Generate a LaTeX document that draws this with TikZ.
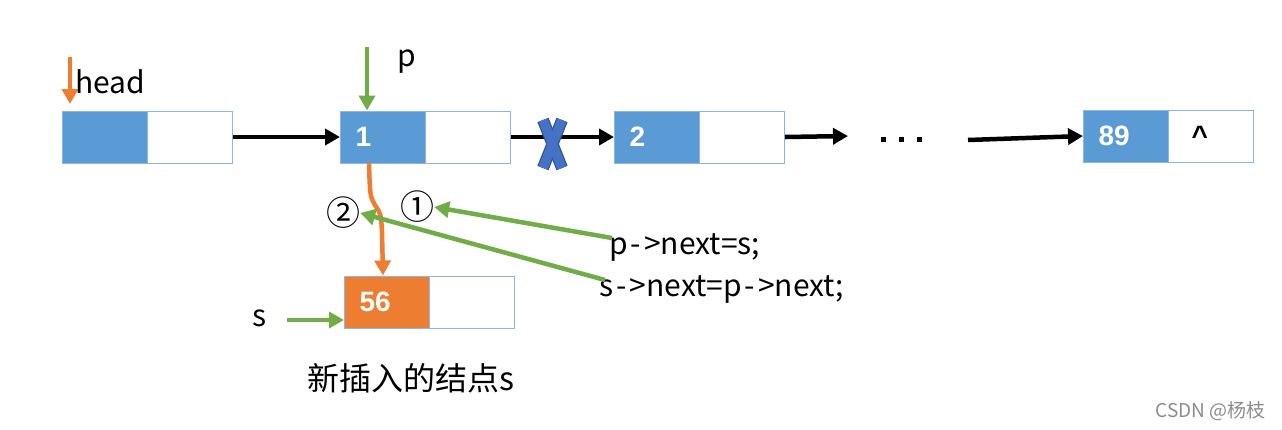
\documentclass[tikz,border=0pt]{standalone}
\usepackage{fontspec}
\setmainfont{Noto Sans CJK SC}
\newfontfamily\numfont{Liberation Sans}
\usetikzlibrary{arrows.meta}
\definecolor{cblue}{HTML}{5B9BD5}
\definecolor{cborder}{HTML}{8EB4E3}
\definecolor{corange}{HTML}{ED7D31}
\definecolor{cgreen}{HTML}{70AD47}
\definecolor{cx}{HTML}{4472C4}
\tikzset{
  datacell/.style={rectangle, fill=cblue, draw=cborder, line width=1pt, minimum width=85pt, minimum height=52pt, inner sep=0pt, anchor=west, text=white, font=\numfont\bfseries\fontsize{28}{30}\selectfont, text width=55pt, align=left},
  ptrcell/.style={rectangle, fill=white, draw=cborder, line width=1pt, minimum width=85pt, minimum height=52pt, inner sep=0pt, anchor=west, font=\numfont\bfseries\fontsize{28}{30}\selectfont, text width=55pt, align=left},
  link/.style={black, line width=4.5pt, -{Triangle[length=15pt,width=16pt]}},
  garrow/.style={cgreen, line width=4.5pt, -{Triangle[length=15pt,width=16pt]}},
  oarrow/.style={corange, line width=4.5pt, -{Triangle[length=15pt,width=16pt]}},
  lbl/.style={inner sep=0pt, font=\fontsize{30}{34}\selectfont},
  dot/.style={rectangle, fill=black, inner sep=0pt, minimum size=5pt},
}
\newcommand{\arr}{\hspace{3pt}-\hspace{3pt}>}
\begin{document}
\begin{tikzpicture}[x=1pt,y=-1pt]
\useasboundingbox (0,0) rectangle (1282,429);
% list nodes
\node[datacell] (h0) at (62,137) {};
\node[ptrcell] (h1) at (147,137) {};
\node[datacell] (a0) at (340,137) {1};
\node[ptrcell] (a1) at (425,137) {};
\node[datacell] (b0) at (614,137) {2};
\node[ptrcell] (b1) at (699,137) {};
\node[datacell] (z0) at (1083,136) {89};
\node[ptrcell] (z1) at (1168,136) {\hspace*{8pt}\^{}};
\node[datacell, fill=corange] (s0) at (344,302) {56};
\node[ptrcell] (s1) at (429,302) {};
% links
\draw[link] (h1.east) -- (a0.west);
\draw[link] (a1.east) -- (b0.west);
\coordinate (d1) at (848,136);
\draw[link] (b1.east) -- (d1);
\node[dot] (dt1) at (883,139) {};
\node[dot] (dt2) at (901,139) {};
\node[dot] (dt3) at (919,139) {};
\coordinate (d2) at (968,140);
\draw[link] (d2) -- (z0.west);
% cross
\draw[cx!75!black, line width=12pt] (543,120) -- (562,168);
\draw[cx!75!black, line width=12pt] (562,120) -- (543,168);
\draw[cx, line width=9.5pt] (543,120) -- (562,168);
\draw[cx, line width=9.5pt] (562,120) -- (543,168);
% head pointer
\coordinate (ht) at (70,57);
\draw[oarrow] (ht) -- (70,104);
\node[lbl, anchor=base west] (head) at (75,93) {head};
% p pointer
\coordinate (pt) at (367,47);
\draw[garrow] (pt) -- (a0.north -| pt);
\node[lbl, anchor=base west] (plbl) at (397,66) {p};
% s pointer
\node[lbl, anchor=base west] (slbl) at (252,326) {s};
\coordinate (st) at (287,320);
\draw[garrow] (st) -- (s0.west |- st);
% orange insertion curve
\coordinate (oc) at (369,163);
\draw[oarrow] (oc) .. controls (370,196) .. (375,205) .. controls (381,214) .. (382,232) -- (s0.north -| 383,0);
% circled numbers
\node[lbl, font=\fontsize{34}{34}\selectfont] (c1) at (417,207) {①};
\node[lbl, font=\fontsize{34}{34}\selectfont] (c2) at (343,213) {②};
% code lines
\node[lbl, anchor=base west] (code1) at (609,254) {p\arr next=s;};
\node[lbl, anchor=base west] (code2) at (599,296) {s\arr next=p\arr next;};
\coordinate (g1) at (612,238);
\coordinate (g2) at (605,280);
\draw[garrow] (g1) -- (c1.east);
\draw[garrow] (g2) -- (c2.east);
% caption
\node[lbl, anchor=base west, font=\fontsize{32}{36}\selectfont] (cap) at (307,390) {新插入的结点s};
\node[inner sep=0pt, anchor=base east, text=black!45, font=\fontsize{19}{22}\selectfont] (wm) at (1266,417) {CSDN @杨枝};
\end{tikzpicture}
\end{document}
